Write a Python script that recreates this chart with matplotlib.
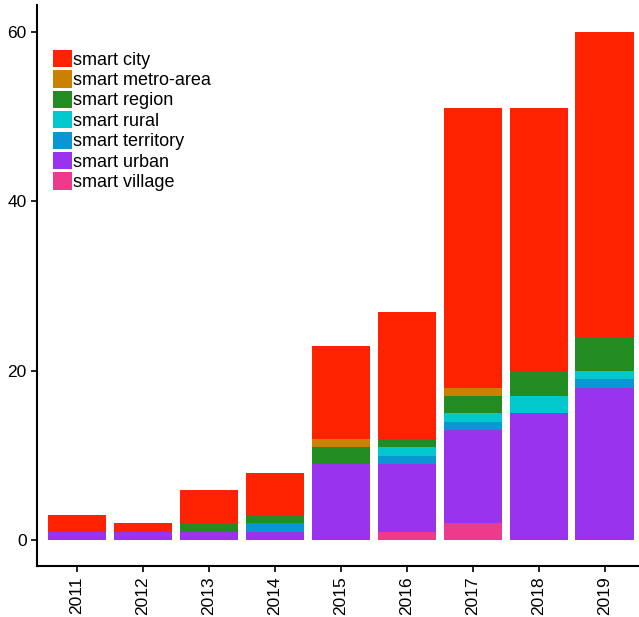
import matplotlib.pyplot as plt
import numpy as np

plt.rcParams['font.family'] = ['Liberation Sans', 'DejaVu Sans']

years = ['2011', '2012', '2013', '2014', '2015', '2016', '2017', '2018', '2019']

# stacked bottom to top
smart_village = [0, 0, 0, 0, 0, 1, 2, 0, 0]
smart_urban = [1, 1, 1, 1, 9, 8, 11, 15, 18]
smart_territory = [0, 0, 0, 1, 0, 1, 1, 0, 1]
smart_rural = [0, 0, 0, 0, 0, 1, 1, 2, 1]
smart_region = [0, 0, 1, 1, 2, 1, 2, 3, 4]
smart_metro_area = [0, 0, 0, 0, 1, 0, 1, 0, 0]
smart_city = [2, 1, 4, 5, 11, 15, 33, 31, 36]

series = [
    ('smart village', smart_village, '#EE3A8C'),
    ('smart urban', smart_urban, '#9933EE'),
    ('smart territory', smart_territory, '#0A96D2'),
    ('smart rural', smart_rural, '#00C8CC'),
    ('smart region', smart_region, '#228B22'),
    ('smart metro-area', smart_metro_area, '#CC8000'),
    ('smart city', smart_city, '#FF2200'),
]

fig = plt.figure(figsize=(6.39, 6.17), dpi=100)
ax = fig.add_axes([0.058, 0.083, 0.95, 0.909])

x = np.arange(len(years))
bottom = np.zeros(len(years))
handles = []
for name, vals, color in series:
    vals = np.array(vals, dtype=float)
    b = ax.bar(x, vals, bottom=bottom, width=0.88, color=color, label=name,
               edgecolor='none')
    handles.append(b)
    bottom += vals

ax.set_xlim(-0.6, len(years) - 0.4)
ax.set_ylim(-3, 63.2)
ax.set_xticks(x)
ax.set_xticklabels(years, rotation=90, fontsize=12.5)
ax.set_yticks([0, 20, 40, 60])
ax.tick_params(axis='y', labelsize=12.5, length=4, width=1.2)
ax.tick_params(axis='x', length=4, width=1.2)
for s in ['top', 'right']:
    ax.spines[s].set_visible(False)
for s in ['left', 'bottom']:
    ax.spines[s].set_linewidth(1.5)

leg = ax.legend(handles[::-1], [h.get_label() for h in handles[::-1]],
                loc='upper left', bbox_to_anchor=(0.026, 0.92), frameon=False,
                fontsize=13, handlelength=1.05, handleheight=1.1,
                handletextpad=0.05, labelspacing=0.09, borderaxespad=0,
                borderpad=0)

plt.savefig('out.png', dpi=100)
